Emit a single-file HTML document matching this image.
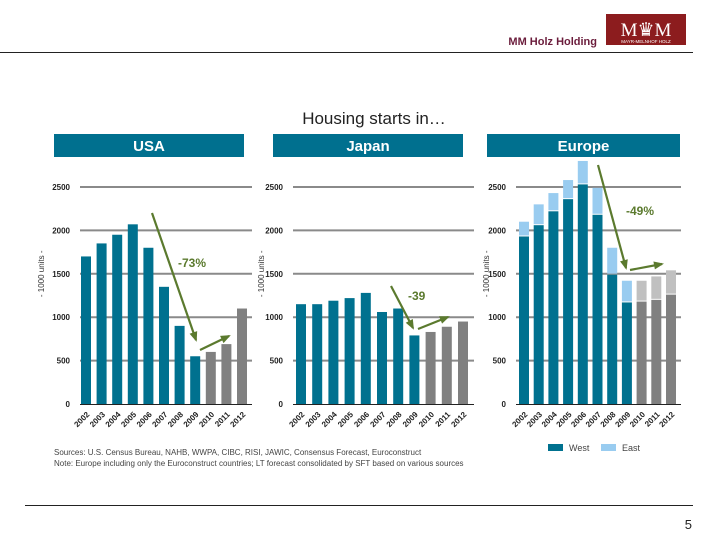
<!DOCTYPE html>
<html><head><meta charset="utf-8"><style>
html,body{margin:0;padding:0;background:#fff;}
svg{display:block;font-family:"Liberation Sans",Arial,sans-serif;}
</style></head><body>
<svg id="s" width="720" height="540" viewBox="0 0 720 540">
<text x="597" y="45" text-anchor="end" font-size="11" font-weight="bold" fill="#6b1d3c">MM Holz Holding</text>
<g>
<rect x="606" y="14" width="80" height="31" fill="#8c1c1e"/>
<text x="646" y="36" text-anchor="middle" font-size="19" font-family="Liberation Serif,serif" fill="#fff">M♛M</text>
<text x="646" y="43" text-anchor="middle" font-size="4.5" fill="#fff">MAYR-MELNHOF HOLZ</text>
</g>
<line x1="0" y1="52.5" x2="693" y2="52.5" stroke="#222"/>
<text x="374" y="124" text-anchor="middle" font-size="17" fill="#222">Housing starts in…</text>
<g id="charts"></g>
<text x="54" y="455" font-size="8" fill="#444">Sources: U.S. Census Bureau, NAHB, WWPA, CIBC, RISI, JAWIC, Consensus Forecast, Euroconstruct</text>
<text x="54" y="466" font-size="8" fill="#444">Note: Europe including only the Euroconstruct countries; LT forecast consolidated by SFT based on various sources</text>
<g>
<rect x="548" y="444" width="15" height="7" fill="#00718f"/>
<text x="569" y="451" font-size="9" fill="#444">West</text>
<rect x="601" y="444" width="15" height="7" fill="#99ccf0"/>
<text x="622" y="451" font-size="9" fill="#444">East</text>
</g>
<line x1="25" y1="505.5" x2="693" y2="505.5" stroke="#222"/>
<text x="692" y="529" text-anchor="end" font-size="13" fill="#222">5</text>
</svg>
<script>
const years=["2002","2003","2004","2005","2006","2007","2008","2009","2010","2011","2012"];
const yTicks=[0,500,1000,1500,2000,2500];
const usaValues=[1700,1850,1950,2070,1800,1350,900,550,600,690,1100];
const japanValues=[1150,1150,1190,1220,1280,1060,1100,790,830,890,950];
const europeWest=[1930,2060,2220,2360,2530,2180,1490,1170,1180,1200,1260];
const europeEast=[170,240,210,220,270,310,310,250,240,270,280];
const forecastFrom=8;
const NS="http://www.w3.org/2000/svg";
const root=document.getElementById('charts');
function mk(tag,attrs,parent){const e=document.createElementNS(NS,tag);for(const k in attrs)e.setAttribute(k,attrs[k]);(parent||root).appendChild(e);return e;}
function chart(cfg){
  const g=mk('g',{});
  
  
  const hdr=mk('rect',{x:cfg.hx,y:134,width:cfg.hw,height:23,fill:'#00708f'},g);
  
  
  const ht=mk('text',{x:cfg.hx+cfg.hw/2,y:151,'text-anchor':'middle','font-size':15,'font-weight':'bold',fill:'#fff'},g);ht.textContent=cfg.title;
  
  
  const y0=404,yTop=187,max=2500;
  const y=v=>y0-(v/max)*(y0-yTop);
  const x=i=>cfg.bx+i*cfg.pitch;
  yTicks.forEach(t=>{
    if(t>0){const l=mk('line',{x1:cfg.px0,x2:cfg.px1,y1:y(t),y2:y(t),stroke:'#8a8a8a','stroke-width':2},g);
    
    }
    const tt=mk('text',{x:cfg.px0-10,y:y(t)+3,'text-anchor':'end','font-size':8,'font-weight':'bold',fill:'#222'},g);tt.textContent=t;
    
    
  });
  const yt=mk('text',{x:0,y:0,'text-anchor':'middle','font-size':8,fill:'#333',transform:`translate(${cfg.ax},${y(1500)}) rotate(-90)`},g);yt.textContent='- 1000 units -';
  
  
  cfg.main.forEach((v,i)=>{
    const fc=i>=forecastFrom;
    const r=mk('rect',{x:x(i),y:y(v),width:cfg.bw,height:y0-y(v),fill:fc?'#808080':'#00718f'},g);
    
    
    if(cfg.east){const e=cfg.east[i];
      const r2=mk('rect',{x:x(i),y:y(v+e),width:cfg.bw,height:y(v)-y(v+e)-1,fill:fc?'#c0c0c0':'#99ccf0'},g);
      
      }
    const lb=mk('text',{x:0,y:0,'text-anchor':'end','font-size':8,'font-weight':'bold',fill:'#222',transform:`translate(${x(i)+cfg.bw/2+4},${y0+11}) rotate(-45)`},g);lb.textContent=years[i];
    
    
  });
  const ax=mk('line',{x1:cfg.px0,x2:cfg.px1,y1:y0+0.5,y2:y0+0.5,stroke:'#222'},g);
  
  
  cfg.arrows.forEach(a=>{
    const l=mk('line',{x1:a[0],y1:a[1],x2:a[2],y2:a[3],stroke:'#5b7a2e','stroke-width':2.2},g);
    
    
    const ang=Math.atan2(a[3]-a[1],a[2]-a[0]),L=8,W=4;
    const bx=a[2]-L*Math.cos(ang),by=a[3]-L*Math.sin(ang);
    const p=mk('polygon',{points:`${a[2]+2*Math.cos(ang)},${a[3]+2*Math.sin(ang)} ${bx-W*Math.sin(ang)},${by+W*Math.cos(ang)} ${bx+W*Math.sin(ang)},${by-W*Math.cos(ang)}`,fill:'#5b7a2e'},g);
    
    
  });
  const pc=mk('text',{x:cfg.pct[0],y:cfg.pct[1],'font-size':12,'font-weight':'bold',fill:'#5b7a2e'},g);pc.textContent=cfg.pct[2];
  
  
}
chart({name:'usa',title:'USA',hx:54,hw:190,px0:80,px1:252,bx:81,pitch:15.6,bw:10,ax:44,main:usaValues,
  arrows:[[152,213,196,340],[200,350,229,336]],pct:[178,267,'-73%']});
chart({name:'japan',title:'Japan',hx:273,hw:190,px0:293,px1:474,bx:296,pitch:16.2,bw:10,ax:264,main:japanValues,
  arrows:[[391,286,413,328],[418,329,448,317]],pct:[408,300,'-39']});
chart({name:'europe',title:'Europe',hx:487,hw:193,px0:516,px1:681,bx:519,pitch:14.7,bw:10,ax:489,main:europeWest,east:europeEast,
  arrows:[[598,165,626,268],[630,270,662,264]],pct:[626,215,'-49%']});
</script>
</body></html>
